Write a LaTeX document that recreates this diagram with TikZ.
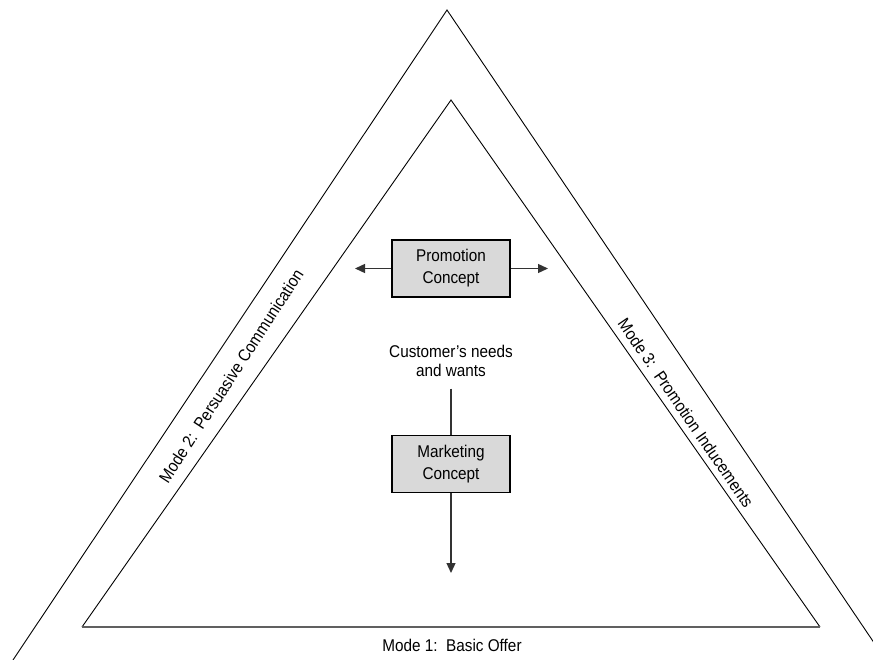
\documentclass[tikz,border=0pt]{standalone}
\usepackage{fontspec}
\setmainfont{Liberation Sans}[FakeStretch=0.9]
\usetikzlibrary{arrows.meta}
\definecolor{boxgray}{HTML}{D9D9D9}
\definecolor{linkgray}{HTML}{333333}
\definecolor{basegray}{HTML}{606060}
\begin{document}
\begin{tikzpicture}[x=1pt,y=-1pt,
  conceptbox/.style={draw=black, line width=1.6pt, fill=boxgray,
    minimum width=118pt, minimum height=57pt, align=center,
    font=\fontsize{17}{22}\selectfont, inner sep=0pt},
  freetext/.style={align=center, font=\fontsize{17}{18.5}\selectfont, inner sep=2pt},
  modelabel/.style={font=\fontsize{17}{19}\selectfont, inner sep=0pt},
  sideedge/.style={line width=0.9pt, draw=black},
  baseedge/.style={line width=2pt, draw=basegray},
  link/.style={line width=1.3pt, draw=linkgray},
  arr/.style={link, -{Triangle[length=10pt,width=9pt]}}]
\useasboundingbox (0,0) rectangle (873,660);
\fill[white] (0,0) rectangle (873,660);

% outer triangle (runs off the page at the bottom)
\begin{scope}
  \clip (0,0) rectangle (873,660);
  \coordinate (outerTop) at (447,10);
  \coordinate (outerL) at (13,660);
  \coordinate (outerR) at (887,662);
  \draw[sideedge] (outerL) -- (outerTop) -- (outerR);
\end{scope}

% inner triangle
\coordinate (innerTop) at (451,100);
\coordinate (innerL) at (82,627);
\coordinate (innerR) at (820,627);
\draw[sideedge] (innerL) -- (innerTop) -- (innerR);
\draw[baseedge] (innerL) -- (innerR);

% mode labels
\node[modelabel] (mode1) at (452,645) {Mode 1:\ \ Basic Offer};
\node[modelabel, rotate=57] (mode2) at (231,376) {Mode 2:\ \ Persuasive Communication};
\node[modelabel, rotate=-55.5] (mode3) at (686,413) {Mode 3:\ \ Promotion Inducements};

% concepts
\node[conceptbox] (promo) at (451,268.5) {Promotion\\Concept};
\node[conceptbox] (mkt) at (451,464) {Marketing\\Concept};
\node[freetext] (needs) at (451,361) {Customer's needs\\and wants};

\coordinate (leftTip) at (355,268.5);
\coordinate (rightTip) at (548,268.5);
\coordinate (downTip) at (451,573);

\draw[arr] (promo.west) -- (leftTip);
\draw[arr] (promo.east) -- (rightTip);
\draw[link] ([yshift=-10pt]needs.south) -- (mkt.north);
\draw[arr] (mkt.south) -- (downTip);
\end{tikzpicture}
\end{document}
